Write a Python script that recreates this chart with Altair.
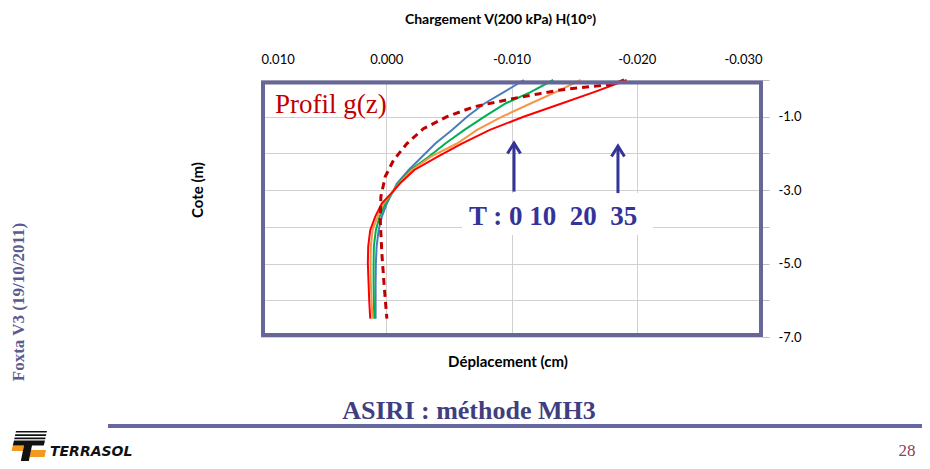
import altair as alt
import pandas as pd

# ---------------- data ----------------
depth_T = [0, -0.33, -0.64, -1.0, -1.36, -1.73, -2.09, -2.45, -2.82, -3.04,
           -3.36, -3.72, -4.09, -4.54, -5.0, -5.54, -6.0, -6.5]
disp_T0 = [-0.01099, -0.00939, -0.00784, -0.00645, -0.00525, -0.00392, -0.00285, -0.00179,
           -0.00085, -0.00053, -0.00005, 0.00035, 0.00061, 0.00077, 0.00083, 0.00085, 0.00085, 0.00085]
disp_T10 = [-0.01333, -0.01152, -0.00952, -0.00784, -0.00624, -0.00472, -0.00339, -0.00192,
            -0.00093, -0.00053, 0.00008, 0.00053, 0.00083, 0.00099, 0.00101, 0.00101, 0.00099, 0.00096]
disp_T20 = [-0.01552, -0.01352, -0.01152, -0.00925, -0.00725, -0.00565, -0.00357, -0.00205,
            -0.00101, -0.00053, 0.00021, 0.00069, 0.00109, 0.00123, 0.00125, 0.00123, 0.00117, 0.00109]
disp_T35 = [-0.01920, -0.01659, -0.01400, -0.01096, -0.00827, -0.00603, -0.00411, -0.00224,
            -0.00109, -0.00053, 0.00035, 0.00088, 0.00128, 0.00144, 0.00147, 0.00141, 0.00136, 0.00128]

depth_g = [0, -0.11, -0.18, -0.27, -0.38, -0.5, -0.73, -1.0, -1.32, -1.73, -2.18, -2.63,
           -3.18, -3.81, -4.72, -5.63, -6.5]
disp_g = [-0.01899, -0.01819, -0.01632, -0.01392, -0.01213, -0.01019, -0.00699, -0.00485,
          -0.00299, -0.00165, -0.00059, 0.00008, 0.00043, 0.00048, 0.00035, 0.00016, -0.00005]

series_names = ["T=0", "T=10", "T=20", "T=35"]
series_colors = ["#4A7EBB", "#00B050", "#F79646", "#FF0000"]

x_ticks = [0.01, 0.0, -0.01, -0.02, -0.03]
y_ticks = [0, -1, -2, -3, -4, -5, -6, -7]

arrow_x = [-0.0102, -0.0185]
arrow_tip = [-1.72, -1.80]
arrow_base = [-3.04, -3.08]

# ---------------- tables ----------------
rows = []
for name, vals in zip(series_names, [disp_T0, disp_T10, disp_T20, disp_T35]):
    for i, (d, v) in enumerate(zip(depth_T, vals)):
        rows.append({"serie": name, "i": i, "cote": d, "dep": v})
df = pd.DataFrame(rows)
dfg = pd.DataFrame({"i": list(range(len(depth_g))), "cote": depth_g, "dep": disp_g})
dfa = pd.DataFrame({"x": arrow_x, "tip": arrow_tip, "base": arrow_base})
one = pd.DataFrame({"k": [0]})

SANS = "Lato"
SERIF = "Liberation Serif"
GRID = "#D0D0D0"

xscale = alt.Scale(domain=[-0.03, 0.01], reverse=True, nice=False, zero=False)
yscale = alt.Scale(domain=[-7, 0], nice=False, zero=False)

x_axis = alt.Axis(
    orient="top", values=x_ticks,
    labelExpr="(datum.value < 0 ? '-' : '') + format(abs(datum.value), '.3f')",
    ticks=False, domain=False, grid=True, gridColor=GRID, gridWidth=1,
    labelFont=SANS, labelFontSize=13, labelColor="#000000", labelPadding=14,
    title="Chargement V(200 kPa) H(10°)", titleFont=SANS, titleFontSize=14,
    titleFontWeight="bold", titleColor="#000000", titleX=239, titleY=-61,
    titleAlign="center", titleBaseline="middle", titleAngle=0,
)
y_axis = alt.Axis(
    orient="right", values=y_ticks,
    labelExpr="datum.value % 2 != 0 ? '-' + format(abs(datum.value), '.1f') : ''",
    tickSize=7, tickColor="#BFBFBF", domain=False, grid=True, gridColor=GRID, gridWidth=1,
    labelFont=SANS, labelFontSize=13, labelColor="#000000", labelPadding=9,
    labelAlign="left", labelBaseline="middle", title=None,
)


def X(field):
    return alt.X(field, type="quantitative", scale=xscale, axis=x_axis, title="Chargement V(200 kPa) H(10°)")


def Y(field):
    return alt.Y(field, type="quantitative", scale=yscale, axis=y_axis, title=None)


def px(x, y):
    # plot-area pixel position from page position
    return dict(x=alt.value(x - 261), y=alt.value(y - 80))


def txt(text, x, y, **kw):
    return alt.Chart(one).mark_text(text=text, **kw).encode(**px(x, y))


# white box behind the T label
white_box = alt.Chart(one).mark_rect(color="white").encode(
    x=alt.value(462 - 261), x2=alt.value(653 - 261), y=alt.value(193 - 80), y2=alt.value(235 - 80)
)

lines = alt.Chart(df).mark_line(strokeWidth=2).encode(
    x=X("dep"), y=Y("cote"),
    color=alt.Color("serie:N", scale=alt.Scale(domain=series_names, range=series_colors), legend=None),
    order="i:Q",
)

dashed = alt.Chart(dfg).mark_line(strokeWidth=3, strokeDash=[7, 5], color="#C00000").encode(
    x=X("dep"), y=Y("cote"), order="i:Q"
)

frame = alt.Chart(one).mark_rect(filled=False, stroke="#666699", strokeWidth=4).encode(
    x=alt.value(2), x2=alt.value(500), y=alt.value(2.5), y2=alt.value(255)
)

arrow_col = "#333399"
shafts = alt.Chart(dfa).mark_rule(strokeWidth=3, color=arrow_col).encode(
    x=X("x"), y=Y("base"), y2="tip:Q"
)
heads = alt.Chart(dfa).mark_point(
    shape="M -1 1.6 L 0 0 L 1 1.6", filled=False, size=169, strokeWidth=3,
    color=arrow_col, opacity=1
).encode(x=X("x"), y=Y("tip"))

texts = [
    txt("Cote (m)", 198, 190, angle=270, font=SANS, fontSize=15, fontWeight="bold",
        align="center", baseline="middle", color="#000000"),
    txt("Déplacement (cm)", 508, 362, font=SANS, fontSize=15, fontWeight="bold",
        align="center", baseline="middle", color="#000000"),
    txt("Profil g(z)", 275, 112.7, font=SERIF, fontSize=27, align="left",
        baseline="alphabetic", color="#C00000"),
    txt("T : 0 10\u00a0\u00a020\u00a0\u00a035", 553, 225, font=SERIF, fontSize=27, fontWeight="bold",
        align="center", baseline="alphabetic", color=arrow_col),
    txt("ASIRI : méthode MH3", 469, 419, font=SERIF, fontSize=26, fontWeight="bold",
        align="center", baseline="alphabetic", color="#3F3F7F"),
    txt("Foxta V3 (19/10/2011)", 19, 302, angle=270, font=SERIF, fontSize=17, fontWeight="bold",
        align="center", baseline="middle", color="#5B5B8F"),
    txt("TERRASOL", 50, 456, font="DejaVu Sans", fontSize=14, fontWeight="bold", fontStyle="italic",
        align="left", baseline="alphabetic", color="#111111"),
    txt("28", 907, 456, font=SERIF, fontSize=17, align="center", baseline="alphabetic",
        color="#8B3D63"),
]

bar = alt.Chart(one).mark_rect(color="#6666A0").encode(
    x=alt.value(108 - 261), x2=alt.value(930 - 261), y=alt.value(424 - 80), y2=alt.value(428 - 80)
)

logo_black = alt.Chart(one).mark_point(
    shape=("M6,1 L37,1 L36.6,2.6 L5.6,2.6 Z M5.3,4.3 L36.3,4.3 L35.9,5.9 L4.9,5.9 Z "
           "M4.6,7.6 L35.6,7.6 L35.2,9.2 L4.2,9.2 Z M4,10.5 L35,10.5 L33.8,15.5 L2.8,15.5 Z "
           "M14,15.5 L22,15.5 L18,35 L10,35 Z"),
    size=4, filled=True, color="#111111", strokeWidth=0, opacity=1,
).encode(**px(10, 430))
logo_orange = alt.Chart(one).mark_point(
    shape="M2.8,15.5 L14,15.5 L12.8,21 L1.5,21 Z M21,20 L36,20 L34.5,27 L19.5,27 Z",
    size=4, filled=True, color="#F39A1E", strokeWidth=0, opacity=1,
).encode(**px(10, 430))

chart = alt.layer(
    white_box, lines, dashed, frame, shafts, heads, bar, logo_orange, logo_black, *texts
).properties(
    width=501, height=257,
    padding={"left": 253, "top": 72, "right": 160, "bottom": 124},
    autosize=alt.AutoSizeParams(type="none"),
    background="white",
).configure_view(stroke=None)

chart.save("out.html", embed_options={"renderer": "svg", "actions": False})
